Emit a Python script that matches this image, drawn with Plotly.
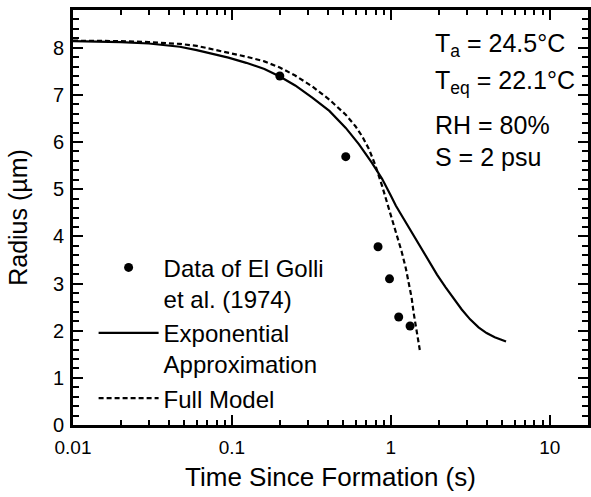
import plotly.graph_objects as go

# Data of El Golli et al. (1974)
data_t = [0.20, 0.52, 0.83, 0.98, 1.12, 1.32]
data_r = [7.40, 5.69, 3.78, 3.10, 2.29, 2.10]

# Exponential approximation
exp_t = [0.01, 0.015, 0.02, 0.03, 0.04, 0.047, 0.06, 0.0755, 0.095, 0.123, 0.16,
         0.20, 0.25, 0.32, 0.41, 0.52, 0.63, 0.76, 0.88, 1.0, 1.075, 1.2, 1.355,
         1.53, 1.73, 1.95, 2.21, 2.5, 2.79, 3.15, 3.56, 4.0, 4.5, 5.3]
exp_r = [8.14, 8.13, 8.12, 8.09, 8.05, 8.02, 7.95, 7.87, 7.79, 7.68, 7.55,
         7.39, 7.20, 6.94, 6.66, 6.30, 5.95, 5.56, 5.22, 4.86, 4.65, 4.38, 4.08,
         3.78, 3.48, 3.19, 2.92, 2.66, 2.45, 2.24, 2.07, 1.95, 1.86, 1.77]

# Full model
full_t = [0.01, 0.015, 0.02, 0.03, 0.04, 0.047, 0.06, 0.0755, 0.095, 0.123, 0.16,
          0.20, 0.25, 0.32, 0.41, 0.52, 0.60, 0.66, 0.73, 0.80, 0.88, 0.95,
          1.01, 1.09, 1.17, 1.24, 1.30, 1.35, 1.39, 1.45, 1.52]
full_r = [8.15, 8.15, 8.14, 8.12, 8.10, 8.08, 8.04, 7.97, 7.90, 7.81, 7.71,
          7.58, 7.41, 7.18, 6.90, 6.58, 6.33, 6.12, 5.84, 5.50, 5.07, 4.70,
          4.38, 4.03, 3.67, 3.33, 3.02, 2.70, 2.38, 2.00, 1.59]

x_tickvals = [0.01, 0.1, 1, 10]
x_ticktext = ["0.01", "0.1", "1", "10"]
x_minor = [m * d for d in [0.01, 0.1, 1, 10] for m in range(2, 10)]
y_tickvals = [0, 1, 2, 3, 4, 5, 6, 7, 8]

conditions = ["T<sub>a</sub> = 24.5°C", "T<sub>eq</sub> = 22.1°C", "RH = 80%", "S = 2 psu"]
cond_y = [0.915, 0.826, 0.724, 0.645]

FONT = "Liberation Sans, Arial, sans-serif"
X_RANGE = [-2, 1.24]
Y_RANGE = [0, 8.8]

fig = go.Figure()
fig.add_trace(go.Scatter(
    x=exp_t, y=exp_r, mode="lines", line=dict(color="black", width=2.2),
    name="Exponential<br>Approximation", legendrank=2))
fig.add_trace(go.Scatter(
    x=full_t, y=full_r, mode="lines",
    line=dict(color="black", width=2.2, dash="5px,3px"),
    name="Full Model", legendrank=3))
# data points live on the overlaid frame axes (same ranges), drawn on top
fig.add_trace(go.Scatter(
    x=data_t, y=data_r, mode="markers", xaxis="x2", yaxis="y2",
    marker=dict(color="black", size=9),
    name="Data of El Golli<br>et al. (1974)", legendrank=1))

for txt, yy in zip(conditions, cond_y):
    fig.add_annotation(text=txt, xref="paper", yref="paper", x=0.699, y=yy,
                       xanchor="left", yanchor="middle", showarrow=False,
                       font=dict(size=25, color="black", family=FONT))

tick_style = dict(ticks="inside", ticklen=10, tickwidth=2, tickcolor="black",
                  showline=True, linecolor="black", linewidth=2.5, mirror="allticks",
                  showgrid=False, zeroline=False, showticklabels=False)

fig.update_layout(
    width=591, height=497,
    margin=dict(l=73, r=0, t=10, b=72),
    paper_bgcolor="white", plot_bgcolor="white",
    font=dict(family=FONT, color="black"),
    showlegend=True,
    legend=dict(x=0.04, y=0.433, xanchor="left", yanchor="top",
                bgcolor="rgba(0,0,0,0)", font=dict(size=24, color="black"),
                valign="top", tracegroupgap=0, itemwidth=60),
    # label axes (no ticks drawn, labels pushed away from the frame)
    xaxis=dict(
        type="log", range=X_RANGE,
        tickvals=x_tickvals, ticktext=x_ticktext, ticks="",
        showline=False, showgrid=False, zeroline=False,
        tickfont=dict(size=19, color="black"), ticklabelstandoff=9,
        title=dict(text="\u00a0\u00a0Time Since Formation (s)",
                   font=dict(size=26, color="black"), standoff=10),
    ),
    yaxis=dict(
        range=Y_RANGE, tickvals=y_tickvals, ticks="",
        showline=False, showgrid=False, zeroline=False,
        tickfont=dict(size=20, color="black"), ticklabelstandoff=8,
        title=dict(text="Radius (µm)", font=dict(size=25, color="black"), standoff=18),
    ),
    # frame + tick axes overlaid on the same area
    xaxis2=dict(
        overlaying="x", anchor="y2", side="bottom", type="log", range=X_RANGE,
        tickvals=x_tickvals,
        minor=dict(ticks="inside", ticklen=5, tickwidth=2, tickcolor="black",
                   tickmode="array", tickvals=x_minor),
        **tick_style),
    yaxis2=dict(
        overlaying="y", anchor="x2", side="left", range=Y_RANGE,
        tickvals=y_tickvals,
        minor=dict(ticks="inside", ticklen=6, tickwidth=2, tickcolor="black", dtick=0.2),
        **tick_style),
)

fig.write_html("out.html")
